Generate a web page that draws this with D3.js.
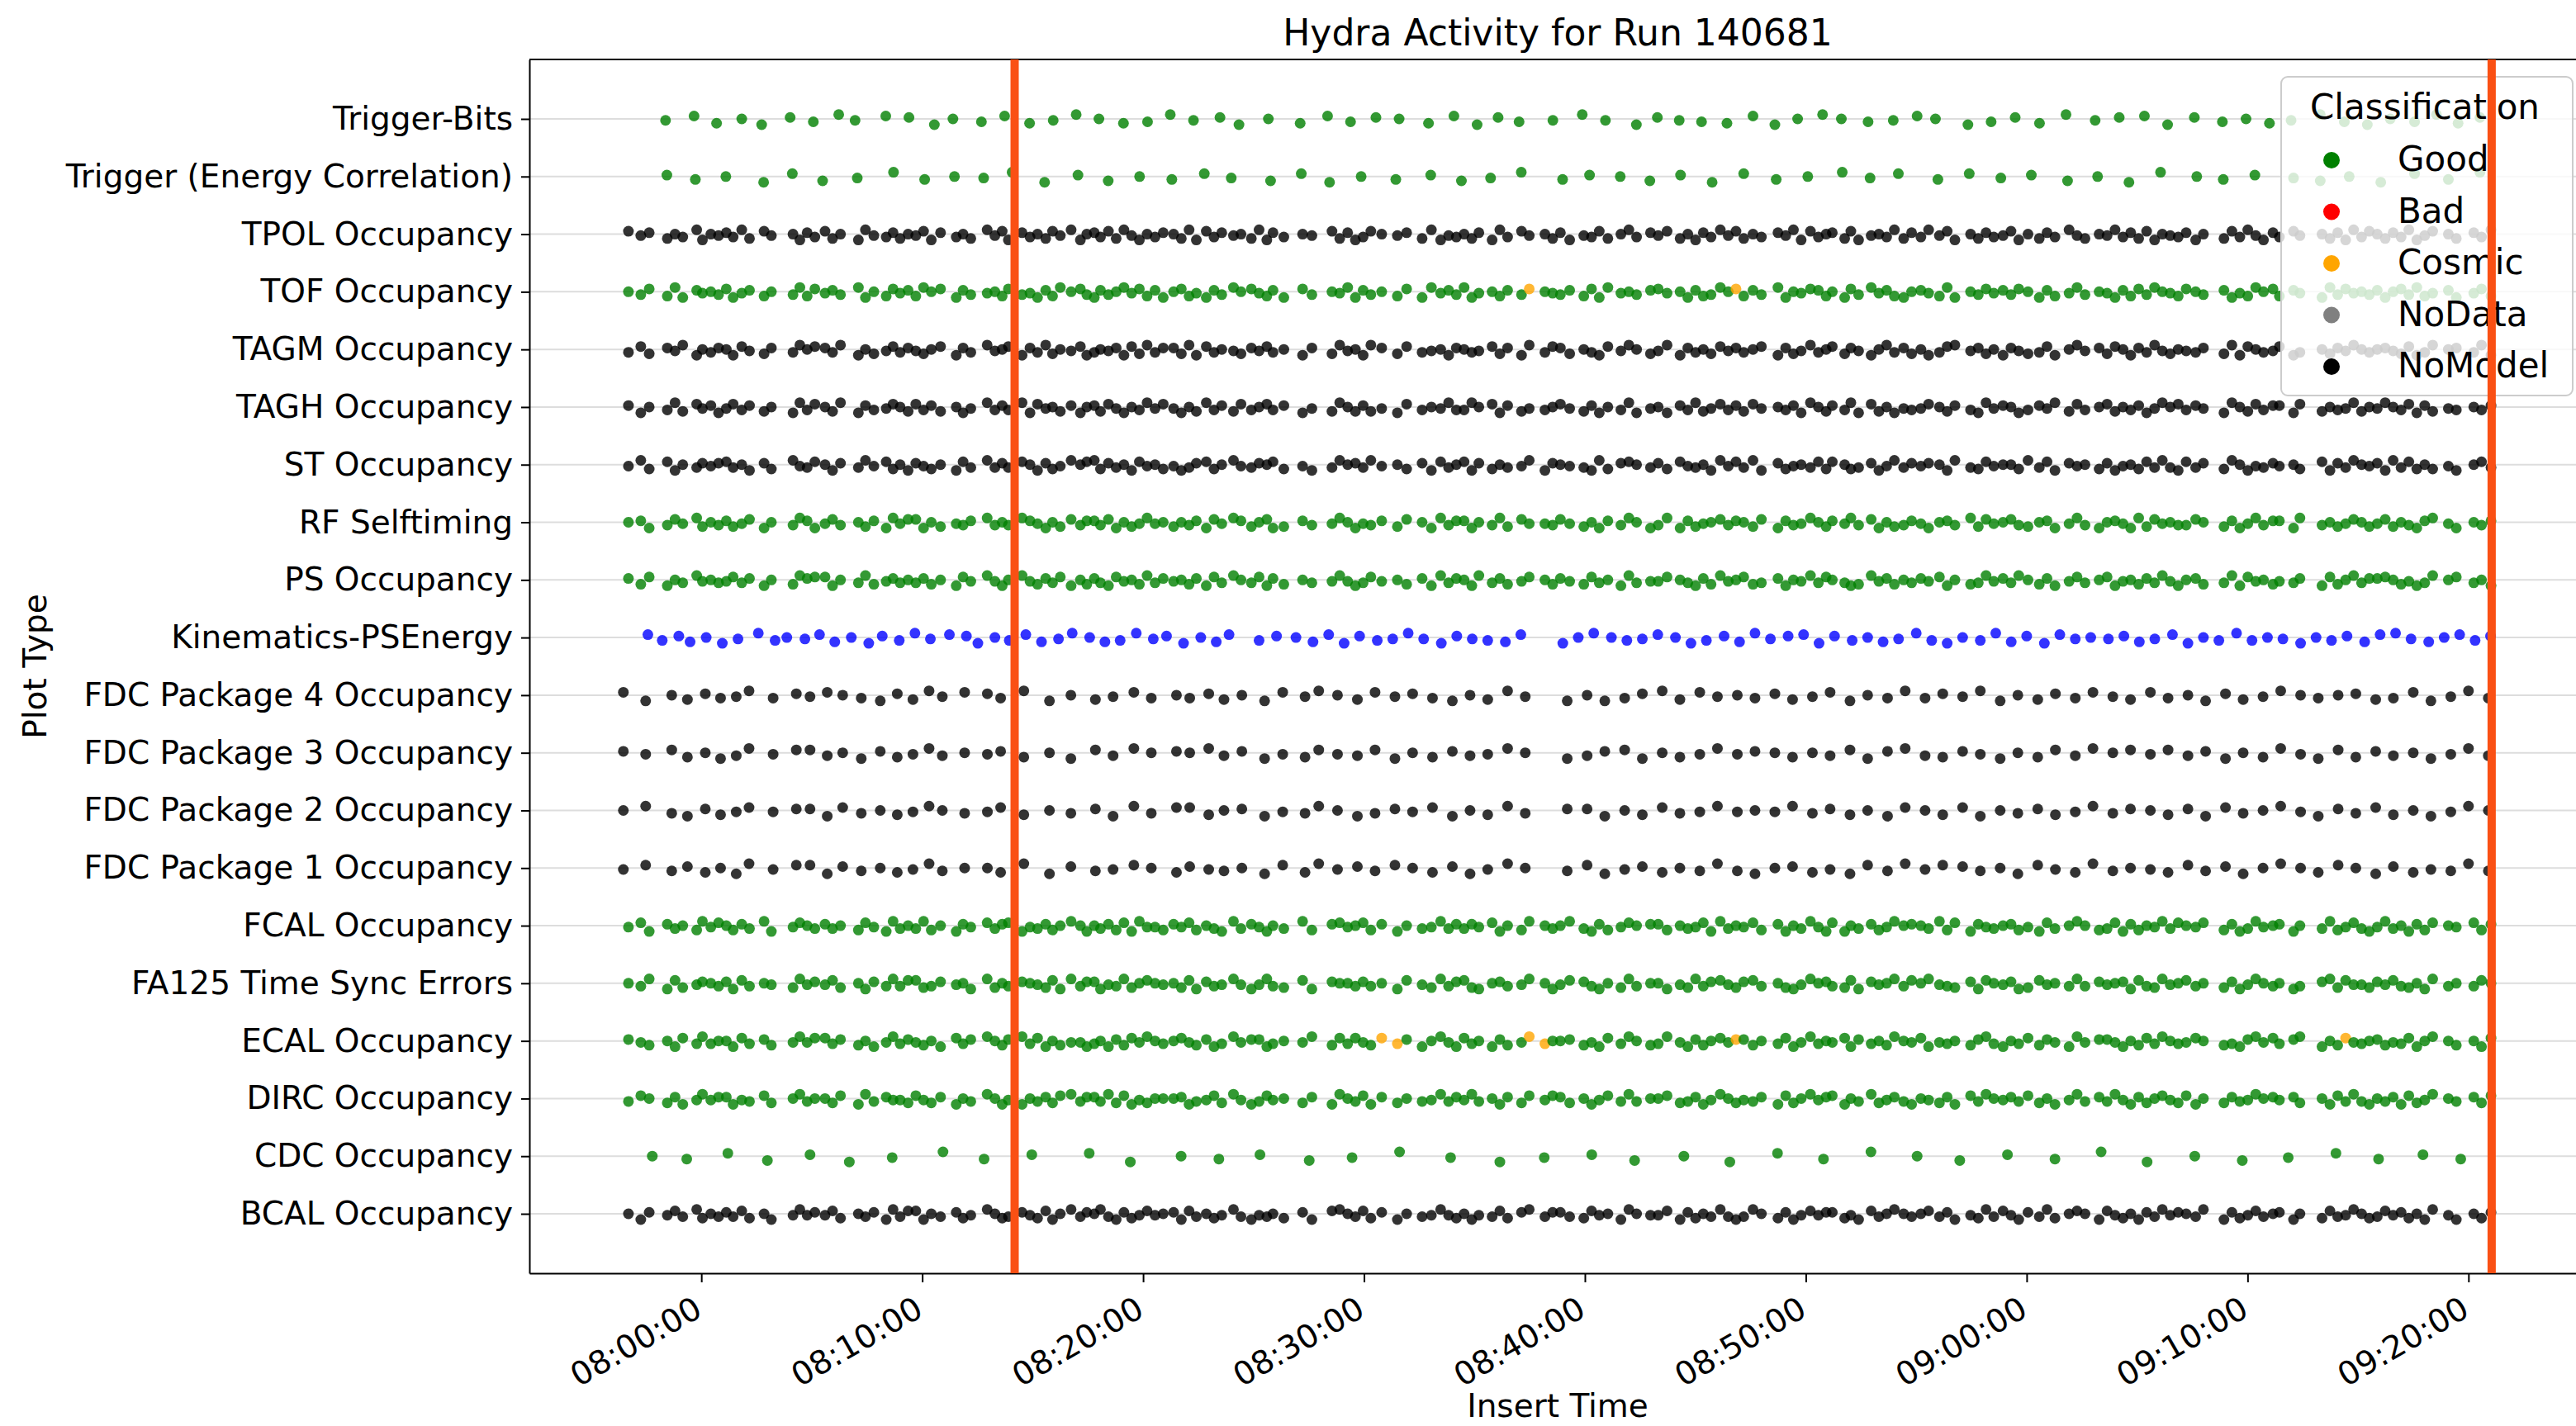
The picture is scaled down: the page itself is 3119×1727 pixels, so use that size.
<!DOCTYPE html>
<html>
<head>
<meta charset="utf-8">
<script src="https://cdn.jsdelivr.net/npm/d3@7"></script>
<style>
  body { margin: 0; background: #fff; }
  svg { display: block; font-family: "DejaVu Sans", sans-serif; }
</style>
</head>
<body>
<svg id="chart"></svg>
<script>
// ---- data (times are minutes after 08:00:00) ----
const title = "Hydra Activity for Run 140681";

const plotTypes = [
  "Trigger-Bits", "Trigger (Energy Correlation)", "TPOL Occupancy", "TOF Occupancy",
  "TAGM Occupancy", "TAGH Occupancy", "ST Occupancy", "RF Selftiming", "PS Occupancy",
  "Kinematics-PSEnergy", "FDC Package 4 Occupancy", "FDC Package 3 Occupancy",
  "FDC Package 2 Occupancy", "FDC Package 1 Occupancy", "FCAL Occupancy",
  "FA125 Time Sync Errors", "ECAL Occupancy", "DIRC Occupancy", "CDC Occupancy", "BCAL Occupancy"
];

const classes = ["Good", "Bad", "Cosmic", "NoData", "NoModel"];
const classColors = ["#008000", "#ff0000", "#ffa500", "#808080", "#000000"];
const otherColor = "#0000ff";

const xTicks = ["08:00:00", "08:10:00", "08:20:00", "08:30:00", "08:40:00",
                "08:50:00", "09:00:00", "09:10:00", "09:20:00"];
const xLimits = ["07:52:13", "09:25:19"];
const markerTimes = ["08:14:11", "09:21:03"];

const denseTimes = [
  -3.30, -2.74, -2.36, -1.54, -1.19, -0.84, -0.21, 0.05, 0.43, 0.78, 1.13, 1.44, 1.83, 2.18,
  2.84, 3.17, 4.15, 4.46, 4.79, 5.14, 5.60, 5.94, 6.30, 7.11, 7.43, 7.81, 8.37, 8.68, 9.00,
  9.36, 9.71, 10.06, 10.41, 10.83, 11.54, 11.85, 12.20, 12.94, 13.29, 13.62, 13.90, 14.52,
  14.88, 15.22, 15.59, 15.90, 16.25, 16.74, 17.16, 17.45, 17.79, 18.07, 18.43, 18.78, 19.13,
  19.48, 19.83, 20.18, 20.54, 20.91, 21.38, 21.73, 22.08, 22.41, 22.86, 23.21, 23.56, 24.09,
  24.43, 24.90, 25.25, 25.60, 25.88, 26.37, 27.22, 27.64, 28.55, 28.90, 29.26, 29.61, 29.96,
  30.31, 30.80, 31.51, 31.93, 32.63, 33.05, 33.47, 33.83, 34.18, 34.53, 34.88, 35.20, 35.80,
  36.15, 36.50, 37.13, 37.48, 38.19, 38.54, 38.89, 39.31, 39.95, 40.30, 40.65, 41.04, 41.63,
  41.99, 42.34, 42.97, 43.32, 43.72, 44.31, 44.66, 45.01, 45.36, 45.71, 46.13, 46.49, 46.84,
  47.19, 47.61, 47.99, 48.74, 49.09, 49.44, 49.79, 50.21, 50.57, 50.92, 51.20, 51.76, 52.04,
  52.39, 52.96, 53.31, 53.66, 54.01, 54.43, 54.79, 55.21, 55.56, 56.05, 56.40, 56.75, 57.46,
  57.81, 58.16, 58.51, 58.93, 59.29, 59.64, 60.06, 60.57, 60.92, 61.28, 61.92, 62.28, 62.64,
  63.28, 63.64, 64.00, 64.36, 64.71, 65.07, 65.43, 65.79, 66.14, 66.50, 66.86, 67.22, 67.65,
  68.00, 68.93, 69.29, 69.65, 70.01, 70.37, 70.72, 71.15, 71.44, 72.08, 72.37, 73.37, 73.73,
  74.08, 74.44, 74.80, 75.16, 75.51, 75.87, 76.23, 76.59, 76.95, 77.30, 77.66, 78.02, 78.38,
  79.09, 79.45, 80.24, 80.59, 81.02
];

const fdcTimes = [
  -3.53, -2.52, -1.34, -0.63, 0.18, 0.87, 1.58, 2.16, 3.25, 4.30, 4.92, 5.70, 6.40, 7.24, 8.10,
  8.87, 9.58, 10.31, 10.91, 11.92, 12.95, 13.55, 14.60, 15.76, 16.73, 17.84, 18.64, 19.58,
  20.37, 21.51, 22.11, 22.97, 23.66, 24.47, 25.50, 26.32, 27.33, 27.95, 28.8, 29.7, 30.5, 31.4,
  32.2, 33.1, 34.0, 34.8, 35.6, 36.5, 37.3, 39.2, 40.1, 40.9, 41.8, 42.6, 43.5, 44.3, 45.2,
  46.0, 46.9, 47.7, 48.6, 49.4, 50.3, 51.1, 52.0, 52.8, 53.7, 54.5, 55.4, 56.2, 57.1, 57.9,
  58.8, 59.6, 60.5, 61.3, 62.2, 63.0, 63.9, 64.7, 65.6, 66.4, 67.3, 68.1, 69.0, 69.8, 70.7,
  71.5, 72.4, 73.2, 74.1, 74.9, 75.8, 76.6, 77.5, 78.3, 79.2, 80.0, 80.9
];

const kinTimes = [
  -2.42, -1.77, -1.02, -0.51, 0.22, 0.95, 1.66, 2.58, 3.34, 3.87, 4.69, 5.35, 6.04, 6.79, 7.58,
  8.19, 8.96, 9.67, 10.37, 11.23, 12.00, 12.52, 13.29, 13.94, 14.69, 15.40, 16.17, 16.79, 17.58,
  18.27, 18.96, 19.69, 20.46, 21.06, 21.83, 22.61, 23.31, 23.89, 25.25, 26.04, 26.92, 27.69,
  28.4, 29.1, 29.8, 30.6, 31.3, 32.0, 32.7, 33.5, 34.2, 34.9, 35.6, 36.4, 37.1, 39.0, 39.7,
  40.4, 41.2, 41.9, 42.6, 43.3, 44.1, 44.8, 45.5, 46.3, 47.0, 47.7, 48.4, 49.2, 49.9, 50.6,
  51.3, 52.1, 52.8, 53.5, 54.2, 55.0, 55.7, 56.4, 57.1, 57.9, 58.6, 59.3, 60.0, 60.8, 61.5,
  62.2, 62.9, 63.7, 64.4, 65.1, 65.8, 66.6, 67.3, 68.0, 68.7, 69.5, 70.2, 70.9, 71.6, 72.4,
  73.1, 73.8, 74.5, 75.3, 76.0, 76.7, 77.4, 78.2, 78.9, 79.6, 80.3, 81.0
];

const trigBitsTimes = [
  -1.62, -0.33, 0.69, 1.83, 2.73, 4.02, 5.07, 6.22, 6.96, 8.35, 9.40, 10.55, 11.39, 12.68,
  13.73, 14.86, 15.93, 16.97, 18.00, 19.11, 20.20, 21.23, 22.28, 23.48, 24.34, 25.67, 27.11,
  28.35, 29.39, 30.54, 31.59, 32.92, 34.07, 35.12, 36.07, 37.02, 38.55, 39.88, 40.93, 42.33,
  43.28, 44.27, 45.28, 46.43, 47.61, 48.60, 49.63, 50.76, 51.61, 52.82, 53.96, 55.04, 55.87,
  57.34, 58.39, 59.48, 60.58, 61.78, 63.10, 64.19, 65.33, 66.38, 67.59, 68.86, 69.93, 70.99,
  71.97, 73.29, 74.38, 75.42, 76.46, 77.56, 78.55, 79.53, 80.52
];

const trigEcTimes = [
  -1.56, -0.27, 1.11, 2.82, 4.12, 5.49, 7.06, 8.70, 10.11, 11.46, 12.78, 14.07, 15.54, 17.05,
  18.42, 19.84, 21.30, 22.77, 23.99, 25.77, 27.16, 28.44, 29.87, 31.44, 33.02, 34.41, 35.73,
  37.12, 38.99, 40.21, 41.60, 42.94, 44.33, 45.76, 47.19, 48.66, 50.09, 51.65, 52.91, 54.19,
  55.98, 57.40, 58.83, 60.21, 61.85, 63.21, 64.63, 66.06, 67.70, 68.90, 70.33, 72.08, 73.29,
  74.60, 76.03, 77.56, 79.09, 80.52
];

const cdcTimes = [
  -2.22, -0.66, 1.20, 2.99, 4.92, 6.70, 8.64, 10.94, 12.80, 14.96, 17.56, 19.42, 21.72, 23.43,
  25.29, 27.52, 29.46, 31.61, 33.92, 36.15, 38.16, 40.31, 42.25, 44.48, 46.56, 48.72, 50.80,
  52.95, 55.04, 56.97, 59.13, 61.28, 63.37, 65.45, 67.61, 69.76, 71.84, 74.00, 75.93, 77.94, 79.65
];

// stripplot jitter per point, digit 0..8 (4 = on the category line)
const jitterTPOL  = "2537461845 3617254836 2748156374 5283647152 8364725184 3627158463 4718263547 1836452738 6245371856 4738162547 3856274163 5274836152 7463518264 3728546173 6152847365 2847361574 5163728456 3847261583 6254738162 4736185247 3618274536";
const jitterTOF   = "4627183546 2853746172 5361847253 7142836547 2658371426 8364152738 4275836142 5738264518 3647281536 1854736245 6372815463 2548376142 7361845237 4826153784 3571846253 6248375164 5837261457 2463857142 7358162546 3842617538 5274638154";
const jitterTAGM  = "6273518463 4825736142 3618475263 5742836154 2836174528 6453827163 3718264573 5264837154 8137265483 4652738162 3746825147 5183647253 6428375164 2735841637 4862153748 3576284153 7248361574 5637182465 2864735146 4357286143 6183745264";
const jitterTAGH  = "3846172538 5263748162 4718365247 2637485163 6182547384 3725846152 5847163726 4263857147 3758264516 6142837564 2573846185 4836175263 7254638147 3618274856 5247368153 4863517264 2746385142 6358147263 3827465174 5146283756 4637281548";
const jitterST    = "5172846353 2648371562 4836152748 3574826163 6248375142 1736482547 5863274156 3427586143 6154738264 2837465183 4568173246 3725648152 6183754627 2476385163 5348167254 4716283547 3854726168 2637148563 5472836145 3816274758 4265837146";
const jitterRF    = "4386251746 3752846138 5264738152 2847563164 6135847263 3628475154 7463825137 4287365148 5637248163 3846172556 2574836148 6183754263 4728365147 3516284763 5843617254 2674385168 4358172546 6247385163 3816475247 5274683158 4637285143";
const jitterPS    = "3728461546 5263847132 2846175364 6374825158 4157362847 3682547163 5473826146 2837465158 6254738163 4816375247 3572648165 5246837154 2763845162 4687153746 3528476153 6147385264 2854736158 4376182547 5638274163 3247586142 6483725157";
const jitterFCAL  = "5283647152 4736185246 3647258164 6174835263 2856374148 4637281557 3527468163 5846173254 2738465163 6352847146 4168375243 3746528164 5273846158 2846375143 4617283564 3758264147 6283745162 4527386154 3846175268 5164837245 2735846163";
const jitterFA125 = "4618275346 3826457153 5274836162 2763548174 6345728163 3856174245 4728365158 5167283446 3648257163 2784365148 5236847164 4857163257 3264785143 6728354162 4156738245 3872546163 5438267154 2647385146 4863172557 3526748164 6247385153";
const jitterECAL  = "3574826164 4826375152 2637485163 5748263147 3162847558 6483725146 4257386153 3864517262 5726384158 2648375164 4375826147 6158374253 3746285164 5283647145 2856473168 4627358153 3584726146 5247683152 6318472564 3756284147 4827365163";
const jitterDIRC  = "6247385153 3856274164 4728163557 2573846148 5846372163 3617285744 4386527158 6254738146 2837465163 5164837252 3748526164 4276385147 5638274153 2846175368 4573826145 3627485163 6158374257 2847365143 5374826168 4638275146 3725846152";
const jitterBCAL  = "4835261746 3627485153 5274638162 2846375147 6357284163 4168375254 3826475168 5647382146 2738465157 4856273163 3672548145 5283746168 6147385253 3758264146 4263857162 5836174248 2574836153 4618375264 3847265147 6253748158 4736281563";
const jitterFDC4  = "2847365163 5246837152 3618475264 6374825147 2536847158 4863172546 3752846163 5184736257 2648375146 4376285163 6157382448";
const jitterFDC3  = "3527486152 2648375164 5374826143 4163857256 2847365148 6328475153 4746283167 3584726142 5263847158 2736485164 4615372847";
const jitterFDC2  = "4168375253 3826475146 5274638162 2743856148 6352847163 3847265154 5163748247 2846375163 4738264158 3627485146 5384726153";
const jitterFDC1  = "5263748152 2836475164 4718365247 3564827153 6247385146 2853746168 4375826152 3648257164 5726384147 2483756163 6137485254";
const jitterKin   = "2637485164 5274836152 3846275147 6153847263 4728365158 3567284146 5248637153 2836475168 4617382545 3752846164 5846372157 4263857163";
const jitterTrigB = "5274836152 3846275147 6153847263 4728365158 3567284146 5248637153 2836475168 4617382545";
const jitterTrigE = "3648275164 5183746257 2846375163 4738264152 6253748146 3574826163 5827364148";
const jitterCDC   = "4627385163 2846375158 5374826147 3618475263 6253748154";

// times flagged as Cosmic
const cosmicTOF  = [37.55, 46.88];
const cosmicECAL = [31.1, 31.7, 37.35, 37.94, 46.73, 74.5];

// ---- table built from the arrays above ----
const rowSpec = [
  [trigBitsTimes, jitterTrigB, "Good", []],
  [trigEcTimes,   jitterTrigE, "Good", []],
  [denseTimes,    jitterTPOL,  "NoModel", []],
  [denseTimes,    jitterTOF,   "Good", cosmicTOF],
  [denseTimes,    jitterTAGM,  "NoModel", []],
  [denseTimes,    jitterTAGH,  "NoModel", []],
  [denseTimes,    jitterST,    "NoModel", []],
  [denseTimes,    jitterRF,    "Good", []],
  [denseTimes,    jitterPS,    "Good", []],
  [kinTimes,      jitterKin,   "Other", []],
  [fdcTimes,      jitterFDC4,  "NoModel", []],
  [fdcTimes,      jitterFDC3,  "NoModel", []],
  [fdcTimes,      jitterFDC2,  "NoModel", []],
  [fdcTimes,      jitterFDC1,  "NoModel", []],
  [denseTimes,    jitterFCAL,  "Good", []],
  [denseTimes,    jitterFA125, "Good", []],
  [denseTimes,    jitterECAL,  "Good", cosmicECAL],
  [denseTimes,    jitterDIRC,  "Good", []],
  [cdcTimes,      jitterCDC,   "Good", []],
  [denseTimes,    jitterBCAL,  "NoModel", []]
];

const day = [2024, 0, 1];
const atMinute = m => new Date(new Date(...day, 8, 0, 0).getTime() + m * 60000);
const atClock = s => { const p = s.split(":").map(Number); return new Date(...day, p[0], p[1], p[2]); };

const points = [];
rowSpec.forEach(([times, jit, cls, cosmic], row) => {
  const digits = jit.replace(/ /g, "");
  const cosmicIdx = new Set(cosmic.map(c => d3.minIndex(times, t => Math.abs(t - c))));
  times.forEach((t, i) => {
    const d = digits.length > i ? +digits[i] : 4;
    points.push({
      row, time: atMinute(t),
      jitter: (d - 4) / 4 * 0.1,
      cls: cosmicIdx.has(i) ? "Cosmic" : cls
    });
  });
});

// ---- layout ----
const W = 3119, H = 1727;
const margin = {top: 72, left: 641, right: -12, bottom: 185};
const plotW = W - margin.left - margin.right, plotH = H - margin.top - margin.bottom;

const svg = d3.select("#chart").attr("width", W).attr("height", H);

const x = d3.scaleTime().domain(xLimits.map(atClock)).range([0, plotW]);
const y = d3.scaleLinear().domain([-1.0317, plotTypes.length - 1 + 1.0317]).range([0, plotH]);
const color = d3.scaleOrdinal().domain(classes).range(classColors).unknown(otherColor);

const g = svg.append("g").attr("transform", `translate(${margin.left},${margin.top})`);

// grid
g.append("g").selectAll("line").data(plotTypes).join("line")
  .attr("x1", 0).attr("x2", plotW)
  .attr("y1", (d, i) => y(i)).attr("y2", (d, i) => y(i))
  .attr("stroke", "#dddddd").attr("stroke-width", 2);

// dots
g.append("g").selectAll("circle").data(points).join("circle")
  .attr("cx", d => x(d.time))
  .attr("cy", d => y(d.row + d.jitter))
  .attr("r", 6.5)
  .attr("fill", d => color(d.cls))
  .attr("fill-opacity", 0.8);

// axes
const yAxis = g.append("g")
  .call(d3.axisLeft(y).tickValues(d3.range(plotTypes.length)).tickFormat(i => plotTypes[i])
    .tickSize(10).tickPadding(10).tickSizeOuter(0));
yAxis.selectAll("text").attr("font-size", 39).attr("fill", "#000").attr("font-family", "DejaVu Sans");

const xAxis = g.append("g").attr("transform", `translate(0,${plotH})`)
  .call(d3.axisBottom(x).tickValues(xTicks.map(atClock)).tickFormat(d3.timeFormat("%H:%M:%S"))
    .tickSize(11).tickSizeOuter(0));
xAxis.selectAll("text")
  .attr("font-size", 39).attr("fill", "#000").attr("font-family", "DejaVu Sans")
  .attr("text-anchor", "end").attr("y", null).attr("dy", "0.76em")
  .attr("transform", "translate(-12,25) rotate(-30)");

[yAxis, xAxis].forEach(a => {
  a.select(".domain").attr("stroke", "#000").attr("stroke-width", 2);
  a.selectAll(".tick line").attr("stroke", "#000").attr("stroke-width", 2);
});
g.append("line").attr("x1", 0).attr("x2", plotW).attr("y1", 0).attr("y2", 0)
  .attr("stroke", "#000").attr("stroke-width", 2);
g.append("line").attr("x1", plotW).attr("x2", plotW).attr("y1", 0).attr("y2", plotH)
  .attr("stroke", "#000").attr("stroke-width", 2);

// labels
svg.append("text").attr("x", margin.left + plotW / 2).attr("y", 55)
  .attr("text-anchor", "middle").attr("font-size", 44).text(title);
svg.append("text").attr("x", margin.left + plotW / 2).attr("y", 1716)
  .attr("text-anchor", "middle").attr("font-size", 39).text("Insert Time");
svg.append("text").attr("transform", `translate(56,${margin.top + plotH / 2}) rotate(-90)`)
  .attr("text-anchor", "middle").attr("font-size", 39).text("Plot Type");

// legend
const lg = g.append("g").attr("transform", `translate(${plotW - 369},21)`);
lg.append("rect").attr("width", 353).attr("height", 386).attr("rx", 8)
  .attr("fill", "#fff").attr("fill-opacity", 0.8)
  .attr("stroke", "#cccccc").attr("stroke-width", 2);
lg.append("text").attr("x", 174).attr("y", 51).attr("text-anchor", "middle")
  .attr("font-size", 42).text("Classification");
const item = lg.selectAll(".item").data(classes).join("g")
  .attr("transform", (d, i) => `translate(0,${101 + i * 62.5})`);
item.append("circle").attr("cx", 61).attr("r", 10).attr("fill", d => color(d));
item.append("text").attr("x", 141).attr("y", 13).attr("font-size", 42).text(d => d);

// marker lines
g.append("g").selectAll("line").data(markerTimes).join("line")
  .attr("x1", d => x(atClock(d))).attr("x2", d => x(atClock(d)))
  .attr("y1", 0).attr("y2", plotH)
  .attr("stroke", "#fa5014").attr("stroke-width", 10);
</script>
</body>
</html>
